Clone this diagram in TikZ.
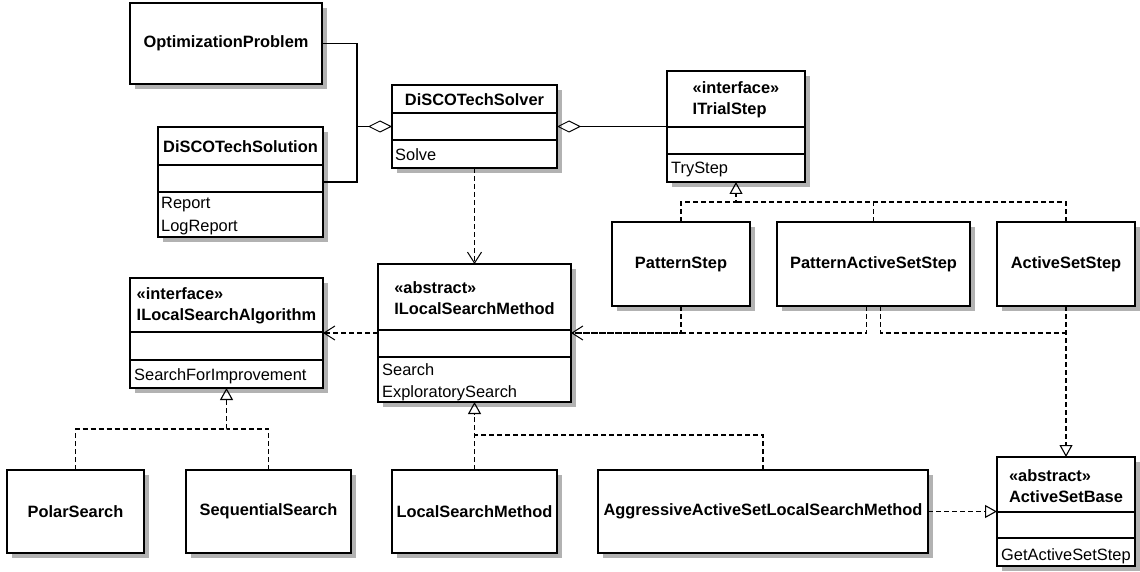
\documentclass[tikz,border=0pt]{standalone}
\usepackage{fontspec}
\setmainfont{Liberation Sans}
\usetikzlibrary{arrows.meta,calc}
\newcommand{\umlbox}[5]{%
  \node[shd, minimum width=#4pt, minimum height=#5pt] (#1-shadow) at (#2+5,#3+5) {};
  \node[cls, minimum width=#4pt, minimum height=#5pt] (#1) at (#2,#3) {};}
\begin{document}
\begin{tikzpicture}[x=1pt,y=-1pt,
  cls/.style={draw, line width=1.3pt, fill=white, inner sep=0pt, outer sep=0pt, anchor=north west},
  shd/.style={fill=black!30, draw=none, inner sep=0pt, outer sep=0pt, anchor=north west},
  sep/.style={line width=1.3pt},
  nm/.style={font=\bfseries\fontsize{16.4}{21}\selectfont, inner sep=0pt, align=left},
  op/.style={font=\fontsize{16.4}{21}\selectfont, inner sep=0pt, anchor=west, text height=12pt, text depth=0pt},
  conn/.style={line width=1.3pt},
  dsh/.style={line width=1.3pt, dash pattern=on 5pt off 3pt},
  agg/.style={conn, {Diamond[open, length=24pt, width=12pt, line width=1pt]}-},
  dep/.style={dsh, -{Straight Barb[length=11pt, width=14pt, line width=1pt]}},
  real/.style={dsh, -{Triangle[open, length=12pt, width=13pt, line width=1.1pt]}},
]
\useasboundingbox (0,0) rectangle (1140,572);

% ---- class boxes ----
\umlbox{opt}{130}{3}{192}{81}
\node[nm] (optN) at (opt.center) {OptimizationProblem};

\umlbox{sol}{158}{127}{165}{110}
\draw[sep] ($(sol.north west)+(0,38)$) -- ($(sol.north east)+(0,38)$);
\draw[sep] ($(sol.north west)+(0,65)$) -- ($(sol.north east)+(0,65)$);
\node[nm] (solN) at ($(sol.north)+(0,20)$) {DiSCOTechSolution};
\node[op] (solR) at ($(sol.north west)+(3,76)$) {Report};
\node[op] (solL) at ($(sol.north west)+(3,98)$) {LogReport};

\umlbox{solver}{392}{85}{165}{83}
\draw[sep] ($(solver.north west)+(0,28)$) -- ($(solver.north east)+(0,28)$);
\draw[sep] ($(solver.north west)+(0,55)$) -- ($(solver.north east)+(0,55)$);
\node[nm] (solverN) at ($(solver.north)+(0,15)$) {DiSCOTechSolver};
\node[op] (solverS) at ($(solver.north west)+(3,70)$) {Solve};

\umlbox{trial}{667}{71}{138}{111}
\draw[sep] ($(trial.north west)+(0,56)$) -- ($(trial.north east)+(0,56)$);
\draw[sep] ($(trial.north west)+(0,83)$) -- ($(trial.north east)+(0,83)$);
\node[nm] (trialN) at ($(trial.north)+(0,29)$) {«interface»\\ITrialStep};
\node[op] (trialT) at ($(trial.north west)+(4,97)$) {TryStep};

\umlbox{pstep}{612}{222}{138}{84}
\node[nm] (pstepN) at (pstep.center) {PatternStep};
\umlbox{pass}{777}{222}{193}{84}
\node[nm] (passN) at (pass.center) {PatternActiveSetStep};
\umlbox{astep}{997}{222}{138}{84}
\node[nm] (astepN) at (astep.center) {ActiveSetStep};

\umlbox{ilsa}{130}{278}{193}{110}
\draw[sep] ($(ilsa.north west)+(0,54)$) -- ($(ilsa.north east)+(0,54)$);
\draw[sep] ($(ilsa.north west)+(0,82)$) -- ($(ilsa.north east)+(0,82)$);
\node[nm] (ilsaN) at ($(ilsa.north)+(0,28)$) {«interface»\\ILocalSearchAlgorithm};
\node[op] (ilsaS) at ($(ilsa.north west)+(4,96)$) {SearchForImprovement};

\umlbox{ilsm}{378}{264}{193}{138}
\draw[sep] ($(ilsm.north west)+(0,66)$) -- ($(ilsm.north east)+(0,66)$);
\draw[sep] ($(ilsm.north west)+(0,93)$) -- ($(ilsm.north east)+(0,93)$);
\node[nm] (ilsmN) at ($(ilsm.north)+(0,34)$) {«abstract»\\ILocalSearchMethod};
\node[op] (ilsmS) at ($(ilsm.north west)+(4,105)$) {Search};
\node[op] (ilsmE) at ($(ilsm.north west)+(4,127)$) {ExploratorySearch};

\umlbox{polar}{7}{470}{137}{83}
\node[nm] (polarN) at (polar.center) {PolarSearch};
\umlbox{seq}{186}{470}{165}{83}
\node[nm] (seqN) at (seq.center) {SequentialSearch};
\umlbox{lsm}{392}{470}{165}{83}
\node[nm] (lsmN) at (lsm.center) {LocalSearchMethod};
\umlbox{agg}{598}{470}{330}{83}
\node[nm] (aggN) at (agg.center) {AggressiveActiveSetLocalSearchMethod};

\umlbox{asb}{997}{457}{138}{109}
\draw[sep] ($(asb.north west)+(0,55)$) -- ($(asb.north east)+(0,55)$);
\draw[sep] ($(asb.north west)+(0,81)$) -- ($(asb.north east)+(0,81)$);
\node[nm] (asbN) at ($(asb.north)+(0,29)$) {«abstract»\\ActiveSetBase};
\node[op] (asbG) at ($(asb.north west)+(4,97)$) {GetActiveSetStep};

% ---- junction coordinates ----
\coordinate (j1) at ($(solver.west)+(-35,0)$);
\coordinate (k3) at ($(trial.south)+(0,20)$);
\coordinate (k4) at ($(ilsa.south)+(0,41)$);
\coordinate (k5) at ($(ilsm.south)+(0,33)$);
\coordinate (k2) at (asb.north |- ilsm.east);

% ---- connectors ----
\draw[conn] (opt.east) -| (j1);
\draw[conn] (sol.east) -| (j1);
\draw[agg] (solver.west) -- (j1);
\draw[agg] (solver.east) -- (trial.west);
\draw[dep] (solver.south) -- (ilsm.north);
\draw[dep] (ilsm.west) -- (ilsa.east);

\draw[dsh] (pass.north) |- (k3);
\draw[dsh] (astep.north) |- (k3);
\draw[real] (pstep.north) |- (k3) -- (trial.south);

\draw[dsh] ([xshift=-7pt]pass.south) |- (ilsm.east);
\draw[dep] (pstep.south) |- (ilsm.east);
\draw[dsh] ([xshift=7pt]pass.south) |- (k2);
\draw[real] (astep.south) -- (asb.north);

\draw[dsh] (seq.north) |- (k4);
\draw[real] (polar.north) |- (k4) -- (ilsa.south);

\draw[dsh] (agg.north) |- (k5);
\draw[real] (lsm.north) -- (ilsm.south);
\draw[real] (agg.east) -- (asb.west |- agg.east);
\end{tikzpicture}
\end{document}
